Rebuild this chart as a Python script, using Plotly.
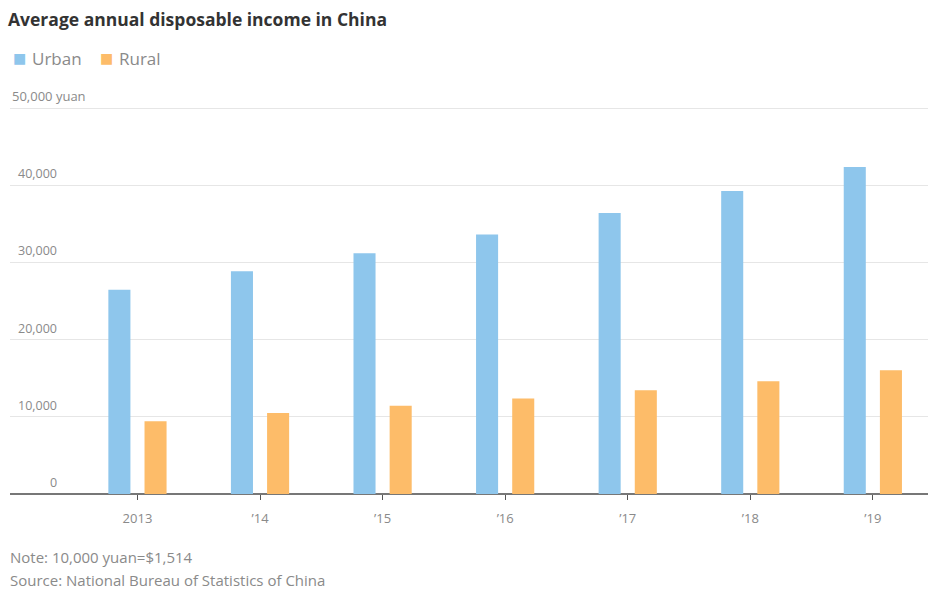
import plotly.graph_objects as go

# Average annual disposable income per capita, yuan
years = ["2013", "’14", "’15", "’16", "’17", "’18", "’19"]
urban = [26467, 28844, 31195, 33616, 36396, 39251, 42359]
rural = [9430, 10489, 11422, 12363, 13432, 14617, 16021]

y_ticks = [0, 10000, 20000, 30000, 40000, 50000]

BLUE = "#8EC6EC"
ORANGE = "#FDBC69"
GREY = "#8a8a8a"
FONT = "Open Sans"

W, H = 933, 590
ML, MR, MT, MB = 10, 5, 105, 96
pw, ph = W - ML - MR, H - MT - MB


def px_x(x):
    return (x - ML) / pw


def px_y(y):
    return (H - MB - y) / ph


fig = go.Figure()
fig.add_trace(go.Bar(name="Urban", x=years, y=urban, marker_color=BLUE,
                     marker_line_width=0))
fig.add_trace(go.Bar(name="Rural", x=years, y=rural, marker_color=ORANGE,
                     marker_line_width=0))

# y-axis labels sit above their gridlines
annotations = []
for v in y_ticks:
    if v == y_ticks[-1]:
        annotations.append(dict(x=-1.04, y=v, xref="x", yref="y",
                                text=f"{v:,} yuan", showarrow=False,
                                xanchor="left", yanchor="bottom", yshift=1,
                                font=dict(family=FONT, size=13, color=GREY)))
    else:
        annotations.append(dict(x=-0.64, y=v, xref="x", yref="y",
                                text=f"{v:,}", showarrow=False,
                                xanchor="right", yanchor="bottom", yshift=1,
                                font=dict(family=FONT, size=12.5, color=GREY)))

# legend: coloured square followed by the series name
legend_items = [(fig.data[0].name, BLUE, 11, 30), (fig.data[1].name, ORANGE, 98, 117)]
for name, color, sx, tx in legend_items:
    annotations.append(dict(x=px_x(sx), y=px_y(58), xref="paper", yref="paper",
                            text="■", showarrow=False, xanchor="left",
                            yanchor="middle",
                            font=dict(family="DejaVu Sans", size=14, color=color)))
    annotations.append(dict(x=px_x(tx), y=px_y(58), xref="paper", yref="paper",
                            text=name, showarrow=False, xanchor="left",
                            yanchor="middle",
                            font=dict(family=FONT, size=17, color=GREY)))

# footer notes
annotations += [
    dict(x=px_x(8), y=px_y(557), xref="paper", yref="paper",
         text="Note: 10,000 yuan=$1,514",
         showarrow=False, xanchor="left", yanchor="middle",
         font=dict(family=FONT, size=15, color=GREY)),
    dict(x=px_x(8), y=px_y(580), xref="paper", yref="paper",
         text="Source: National Bureau of Statistics of China",
         showarrow=False, xanchor="left", yanchor="middle",
         font=dict(family=FONT, size=15, color=GREY)),
]

fig.update_layout(
    width=W, height=H,
    margin=dict(l=ML, r=MR, t=MT, b=MB),
    paper_bgcolor="white", plot_bgcolor="white",
    barmode="group", bargap=0.41, bargroupgap=0.39,
    title=dict(text="<b>Average annual disposable income in China</b>",
               x=8 / W, xanchor="left", y=1 - 20 / H, yanchor="middle",
               font=dict(family=FONT, size=17.5, color="#333333")),
    showlegend=False,
    xaxis=dict(range=[-1.04, 6.45], showgrid=False, ticks="outside",
               ticklen=5, tickwidth=1.3, tickcolor="#555555",
               ticklabelstandoff=7,
               tickfont=dict(family=FONT, size=13, color=GREY),
               showline=False, zeroline=False, fixedrange=True),
    yaxis=dict(range=[0, 50400], tickvals=y_ticks, showticklabels=False,
               showgrid=True, gridcolor="#e6e6e6", gridwidth=1,
               zeroline=True, zerolinecolor="#777777", zerolinewidth=1.6,
               showline=False, fixedrange=True),
    annotations=annotations,
)

fig.write_html("out.html")
